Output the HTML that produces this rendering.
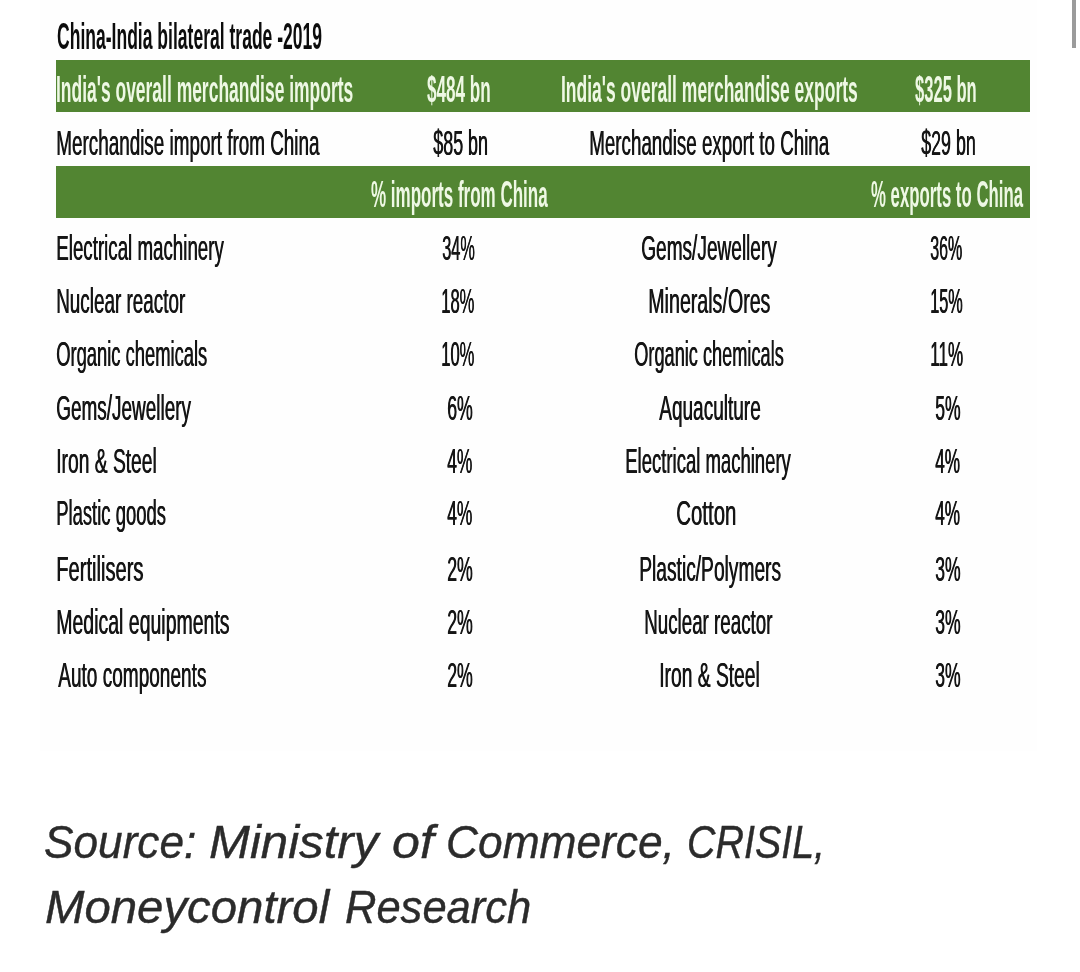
<!DOCTYPE html>
<html lang="en">
<head>
<meta charset="utf-8">
<title>China-India bilateral trade - 2019</title>
<style>
html,body{margin:0;padding:0;background:#fff;}
body{width:1080px;height:972px;position:relative;overflow:hidden;font-family:"Liberation Sans",sans-serif;}
.fig{position:absolute;left:40px;top:0;width:997px;height:751px;background:#fefefe;}
.tbl{position:absolute;left:0;top:0;width:1080px;height:751px;filter:blur(0.5px);}
.bar{position:absolute;left:55.5px;width:974.5px;background:#528532;}
.t{position:absolute;white-space:nowrap;line-height:60px;transform-origin:0 0;margin:0;}
.r{text-shadow:0.9px 0 0 currentColor;}
.b{font-weight:bold;}
.i{font-style:italic;}
.cap{margin:0;}
.cap .t{-webkit-text-stroke:0.4px currentColor;}
.sb{position:absolute;left:1072px;top:0;width:4px;height:48px;background:#9b9b9b;}
</style>
</head>
<body>
<div class="fig"></div>
<div class="tbl">
<div class="bar" style="top:60px;height:52px"></div>
<div class="bar" style="top:166px;height:51.5px"></div>
<div class="t b" style="left:56.53px;top:6.78px;font-size:37px;color:#0c0c0c;transform:scaleX(0.4740)">China-India bilateral trade -2019</div>
<div class="t b" style="left:56.06px;top:60.18px;font-size:37px;color:#eef8e4;transform:scaleX(0.4720)">India's overall merchandise imports</div>
<div class="t b" style="left:427.04px;top:60.18px;font-size:37px;color:#eef8e4;transform:scaleX(0.4630)">$484 bn</div>
<div class="t b" style="left:561.05px;top:60.18px;font-size:37px;color:#eef8e4;transform:scaleX(0.4728)">India's overall merchandise exports</div>
<div class="t b" style="left:915.05px;top:60.18px;font-size:37px;color:#eef8e4;transform:scaleX(0.4481)">$325 bn</div>
<div class="t r" style="left:56.41px;top:112.70px;font-size:35.5px;color:#151515;transform:scaleX(0.5315)">Merchandise import from China</div>
<div class="t r" style="left:432.50px;top:112.70px;font-size:35.5px;color:#151515;transform:scaleX(0.5047)">$85 bn</div>
<div class="t r" style="left:589.41px;top:112.70px;font-size:35.5px;color:#151515;transform:scaleX(0.5288)">Merchandise export to China</div>
<div class="t r" style="left:920.50px;top:112.70px;font-size:35.5px;color:#151515;transform:scaleX(0.5024)">$29 bn</div>
<div class="t b" style="left:370.54px;top:165.43px;font-size:37px;color:#eef8e4;transform:scaleX(0.4596)">% imports from China</div>
<div class="t b" style="left:870.55px;top:165.43px;font-size:37px;color:#eef8e4;transform:scaleX(0.4536)">% exports to China</div>
<div class="t r" style="left:55.92px;top:218.45px;font-size:35.5px;color:#151515;transform:scaleX(0.5278)">Electrical machinery</div>
<div class="t r" style="left:441.58px;top:218.45px;font-size:35.5px;color:#151515;transform:scaleX(0.4596)">34%</div>
<div class="t r" style="left:640.93px;top:218.45px;font-size:35.5px;color:#151515;transform:scaleX(0.5370)">Gems/Jewellery</div>
<div class="t r" style="left:930.35px;top:218.45px;font-size:35.5px;color:#151515;transform:scaleX(0.4522)">36%</div>
<div class="t r" style="left:55.91px;top:271.45px;font-size:35.5px;color:#151515;transform:scaleX(0.5314)">Nuclear reactor</div>
<div class="t r" style="left:441.10px;top:271.45px;font-size:35.5px;color:#151515;transform:scaleX(0.4664)">18%</div>
<div class="t r" style="left:648.34px;top:271.45px;font-size:35.5px;color:#151515;transform:scaleX(0.5530)">Minerals/Ores</div>
<div class="t r" style="left:929.87px;top:271.45px;font-size:35.5px;color:#151515;transform:scaleX(0.4590)">15%</div>
<div class="t r" style="left:56.47px;top:324.45px;font-size:35.5px;color:#151515;transform:scaleX(0.5173)">Organic chemicals</div>
<div class="t r" style="left:441.10px;top:324.45px;font-size:35.5px;color:#151515;transform:scaleX(0.4664)">10%</div>
<div class="t r" style="left:633.98px;top:324.45px;font-size:35.5px;color:#151515;transform:scaleX(0.5121)">Organic chemicals</div>
<div class="t r" style="left:929.81px;top:324.45px;font-size:35.5px;color:#151515;transform:scaleX(0.4805)">11%</div>
<div class="t r" style="left:56.43px;top:377.95px;font-size:35.5px;color:#151515;transform:scaleX(0.5340)">Gems/Jewellery</div>
<div class="t r" style="left:446.50px;top:377.95px;font-size:35.5px;color:#151515;transform:scaleX(0.5000)">6%</div>
<div class="t r" style="left:658.75px;top:377.95px;font-size:35.5px;color:#151515;transform:scaleX(0.5359)">Aquaculture</div>
<div class="t r" style="left:934.51px;top:377.95px;font-size:35.5px;color:#151515;transform:scaleX(0.4948)">5%</div>
<div class="t r" style="left:55.88px;top:430.95px;font-size:35.5px;color:#151515;transform:scaleX(0.5417)">Iron &amp; Steel</div>
<div class="t r" style="left:447.01px;top:430.95px;font-size:35.5px;color:#151515;transform:scaleX(0.4898)">4%</div>
<div class="t r" style="left:625.44px;top:430.95px;font-size:35.5px;color:#151515;transform:scaleX(0.5214)">Electrical machinery</div>
<div class="t r" style="left:935.02px;top:430.95px;font-size:35.5px;color:#151515;transform:scaleX(0.4847)">4%</div>
<div class="t r" style="left:55.94px;top:483.45px;font-size:35.5px;color:#151515;transform:scaleX(0.5193)">Plastic goods</div>
<div class="t r" style="left:447.01px;top:483.45px;font-size:35.5px;color:#151515;transform:scaleX(0.4898)">4%</div>
<div class="t r" style="left:676.35px;top:483.45px;font-size:35.5px;color:#151515;transform:scaleX(0.5750)">Cotton</div>
<div class="t r" style="left:935.02px;top:483.45px;font-size:35.5px;color:#151515;transform:scaleX(0.4847)">4%</div>
<div class="t r" style="left:55.80px;top:539.45px;font-size:35.5px;color:#151515;transform:scaleX(0.5667)">Fertilisers</div>
<div class="t r" style="left:446.50px;top:539.45px;font-size:35.5px;color:#151515;transform:scaleX(0.5000)">2%</div>
<div class="t r" style="left:638.88px;top:539.45px;font-size:35.5px;color:#151515;transform:scaleX(0.5407)">Plastic/Polymers</div>
<div class="t r" style="left:934.51px;top:539.45px;font-size:35.5px;color:#151515;transform:scaleX(0.4948)">3%</div>
<div class="t r" style="left:55.85px;top:592.20px;font-size:35.5px;color:#151515;transform:scaleX(0.5489)">Medical equipments</div>
<div class="t r" style="left:446.50px;top:592.20px;font-size:35.5px;color:#151515;transform:scaleX(0.5000)">2%</div>
<div class="t r" style="left:644.17px;top:592.20px;font-size:35.5px;color:#151515;transform:scaleX(0.5282)">Nuclear reactor</div>
<div class="t r" style="left:934.51px;top:592.20px;font-size:35.5px;color:#151515;transform:scaleX(0.4948)">3%</div>
<div class="t r" style="left:57.50px;top:644.70px;font-size:35.5px;color:#151515;transform:scaleX(0.5364)">Auto components</div>
<div class="t r" style="left:446.50px;top:644.70px;font-size:35.5px;color:#151515;transform:scaleX(0.5000)">2%</div>
<div class="t r" style="left:658.88px;top:644.70px;font-size:35.5px;color:#151515;transform:scaleX(0.5417)">Iron &amp; Steel</div>
<div class="t r" style="left:934.51px;top:644.70px;font-size:35.5px;color:#151515;transform:scaleX(0.4948)">3%</div>
</div>
<p class="cap">
<span class="t i" style="left:44.24px;top:811.56px;font-size:46px;color:#2b2b2b;transform:scaleX(0.9609)">Source:</span> 
<span class="t i" style="left:209.23px;top:811.56px;font-size:46px;color:#2b2b2b;transform:scaleX(1.0681)">Ministry</span> 
<span class="t i" style="left:391.71px;top:811.56px;font-size:46px;color:#2b2b2b;transform:scaleX(1.0902)">of</span> 
<span class="t i" style="left:446.17px;top:811.56px;font-size:46px;color:#2b2b2b;transform:scaleX(0.9630)">Commerce,</span> 
<span class="t i" style="left:687.09px;top:811.56px;font-size:46px;color:#2b2b2b;transform:scaleX(0.8571)">CRISIL,</span> 
<span class="t i" style="left:44.97px;top:876.56px;font-size:46px;color:#2b2b2b;transform:scaleX(1.0290)">Moneycontrol</span> 
<span class="t i" style="left:345.05px;top:876.56px;font-size:46px;color:#2b2b2b;transform:scaleX(0.9459)">Research</span>
</p>
<div class="sb"></div>
</body>
</html>
